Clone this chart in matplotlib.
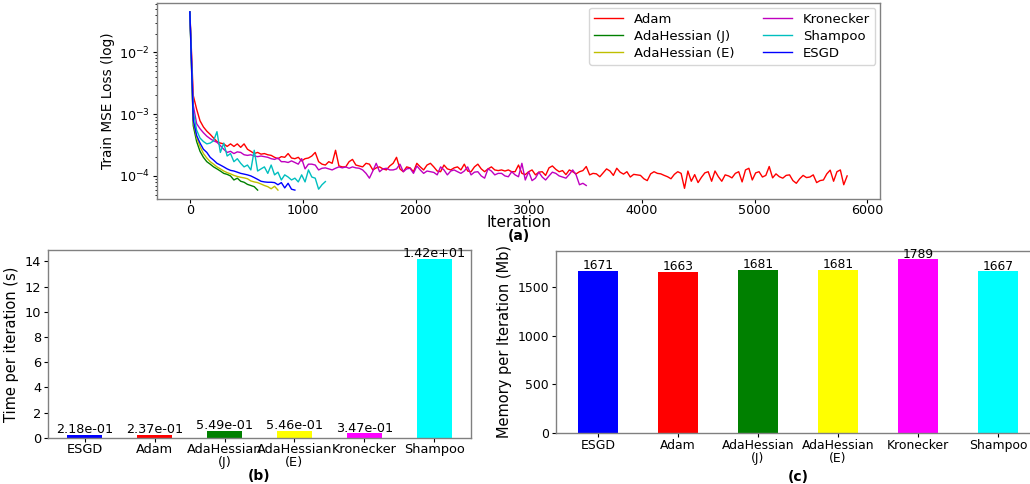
import numpy as np
import matplotlib
matplotlib.use("Agg")
import matplotlib.pyplot as plt
from matplotlib.ticker import MultipleLocator

# ---------------- data ----------------
STEP = 30          # logging interval (iterations)
SCALE = 1e-5       # loss values below are given in units of 1e-5

adam_loss = [
    4500, 200, 120, 78, 62, 53, 47, 41, 36, 34,
    33, 30, 33, 30, 33, 29, 33, 27, 25, 23,
    24, 22.5, 23, 22, 21.5, 20, 19, 20.5, 20, 23,
    19.5, 19, 20, 17.5, 19, 19.5, 21, 24, 17, 15.5,
    15, 17, 16, 26, 14.5, 14, 14, 17, 18.5, 15,
    14.5, 14, 16, 15.5, 12.5, 13.5, 14, 13, 12.5, 14.5,
    16, 20, 13, 11.7, 14, 13.5, 11.7, 16, 14, 12.5,
    15, 16, 14, 12, 11.7, 15, 13, 12.5, 13.5, 14,
    12.5, 15.5, 12, 11.7, 14, 15.5, 13, 11.7, 13, 14,
    12.5, 12.2, 12.5, 12, 12.5, 11.7, 11.7, 15, 11, 10.5,
    11.7, 12.5, 10.4, 11.5, 11.7, 10.2, 13.5, 14.5, 12.8, 11.7,
    12.2, 10.5, 12.5, 11.7, 10.8, 11.7, 12.2, 14.2, 10.4, 11,
    10.8, 9.7, 11.2, 13, 12, 10.2, 13.3, 11.5, 10.7, 11.7,
    9.6, 10.6, 10.4, 10.2, 9, 8.4, 10.8, 11.7, 11, 10.8,
    10.2, 9.7, 9, 10.6, 11.7, 11, 6.3, 12, 8.2, 10.5,
    7.8, 9.5, 11.2, 11.7, 8.2, 12, 9.7, 8.2, 10.4, 10,
    9.3, 11, 11.7, 8, 12.5, 13.3, 8.6, 11.2, 11.7, 9.6,
    10.2, 14.2, 9.3, 10.8, 9.7, 9.2, 10.2, 10.4, 8.4, 7.6,
    9, 10.2, 9.4, 9.6, 10.4, 7.8, 8.4, 8.6, 10.8, 12.4,
    8.2, 11.7, 12.5, 7.2, 10,
]

adahessian_j_loss = [
    4500, 65, 36, 25, 20, 17, 15.5, 14, 13, 12,
    11, 10.6, 10, 8.6, 9.2, 8.2, 7.9, 7.3, 7, 6.7,
    5.9,
]

adahessian_e_loss = [
    4500, 75, 42, 30, 23, 19.5, 17, 15.5, 14, 13,
    12, 11.3, 10.8, 10.2, 9.8, 9.5, 9.3, 9, 8.3, 8,
    7.8, 7.4, 7, 6.7, 6.2, 6.8, 5.9,
]

kronecker_loss = [
    4500, 140, 70, 58, 50, 44, 40, 37, 35, 31,
    27, 24, 25, 23, 24.5, 24, 22, 21.5, 22, 21,
    20.5, 21, 20.5, 20, 19, 18.5, 19.5, 17, 17, 16.5,
    17.5, 16.5, 15.5, 19, 13, 15.5, 15.5, 15, 12.5, 13.3,
    13.5, 13, 12.5, 13.3, 14, 13.5, 14, 13.3, 14, 13.5,
    13.3, 12.5, 11, 9.2, 12, 16, 11.7, 13, 13.3, 12.5,
    12.5, 13, 15.5, 11.7, 13, 13.3, 11, 14.5, 12.5, 11,
    12, 11.7, 11.4, 10.4, 14, 12.5, 10.4, 12, 12.5, 11.7,
    11, 12, 14, 10.4, 11.5, 11.7, 10, 9.2, 13, 12,
    10.4, 11, 11, 10, 9.7, 11.7, 10.4, 9.7, 16, 8.6,
    11.7, 8.4, 9.2, 11.5, 9.6, 8.6, 10, 11.5, 11, 10,
    9.6, 9.2, 10.6, 12.5, 10.4, 7.2, 7.6, 7,
]

shampoo_loss = [
    4500, 110, 55, 41, 36, 33, 34, 37, 52, 24,
    34, 21, 23, 17, 19, 16, 14, 15, 12.5, 26,
    12, 13, 14, 11, 15, 10.4, 11.5, 8.6, 10.4, 9.6,
    8.6, 9.2, 8, 10.4, 8, 12.5, 9.6, 9.2, 6.1, 7.2,
    8.1,
]

esgd_loss = [
    4500, 80, 45, 34, 27, 24, 20, 18, 16, 15,
    14, 13, 12.3, 12, 11.5, 11, 10.7, 10.4, 10, 9.4,
    8.8, 8.2, 8, 7.9, 7.9, 7.8, 7.2, 7.8, 6.4, 7.6,
    6.1, 5.9,
]

line_labels = ["Adam", "AdaHessian (J)", "AdaHessian (E)", "Kronecker", "Shampoo", "ESGD"]
line_colors = ["r", "g", "y", "m", "c", "b"]
line_series = [adam_loss, adahessian_j_loss, adahessian_e_loss,
               kronecker_loss, shampoo_loss, esgd_loss]

bar_categories = ["ESGD", "Adam", "AdaHessian\n(J)", "AdaHessian\n(E)", "Kronecker", "Shampoo"]
bar_colors = ["blue", "red", "green", "yellow", "magenta", "cyan"]
time_per_iter = [0.218, 0.237, 0.549, 0.546, 0.347, 14.2]
memory_per_iter = [1671, 1663, 1681, 1681, 1789, 1667]

# ---------------- figure ----------------
W, H = 1030, 484
fig = plt.figure(figsize=(W / 100, H / 100), dpi=100)

spine_col = "#808080"

def style_axes(ax, labelsize, xpad=2):
    for s in ax.spines.values():
        s.set_color(spine_col)
        s.set_linewidth(1.0)
    ax.tick_params(axis="both", which="major", length=3, pad=2, labelsize=labelsize)
    ax.tick_params(axis="x", which="major", pad=xpad)
    ax.tick_params(axis="both", which="minor", length=1.8)

# (a) training loss
ax1 = fig.add_axes([157 / W, 1 - 199 / H, (880 - 157) / W, (199 - 3) / H])
for vals, lab, col in zip(line_series, line_labels, line_colors):
    vals = np.asarray(vals) * SCALE
    it = np.arange(len(vals)) * STEP
    ax1.plot(it, vals, color=col, lw=1.0, label=lab)
ax1.set_yscale("log")
style_axes(ax1, 9.2, xpad=0.5)
ax1.set_ylabel("Train MSE Loss (log)", fontsize=9.8, labelpad=3)
ax1.set_xlabel("Iteration", fontsize=11, labelpad=-1)
ax1.text(0.5, -0.19, "(a)", transform=ax1.transAxes, ha="center", va="center",
         fontsize=10, fontweight="bold")
ax1.legend(loc="upper right", ncol=2, fontsize=9.5, columnspacing=2.2,
           handlelength=2.2, borderaxespad=0.35, labelspacing=0.3)

# (b) time per iteration
x = np.arange(len(bar_categories))
ax2 = fig.add_axes([48 / W, 1 - 437.7 / H, (471 - 48) / W, (437.7 - 250) / H])
bars = ax2.bar(x, time_per_iter, width=0.5, color=bar_colors)
ax2.bar_label(bars, labels=[f"{v:.2e}" for v in time_per_iter], fontsize=9.2, padding=-1)
ax2.set_xticks(x)
ax2.set_xticklabels(bar_categories, linespacing=1.05)
ax2.yaxis.set_major_locator(MultipleLocator(2))
style_axes(ax2, 9.3, xpad=0.5)
ax2.set_ylabel("Time per iteration (s)", fontsize=10.5, labelpad=4)
ax2.set_xlabel("(b)", fontsize=10, fontweight="bold", labelpad=0)

# (c) memory per iteration
ax3 = fig.add_axes([556 / W, 1 - 432.7 / H, 484 / W, (432.7 - 250.7) / H])
bars = ax3.bar(x, memory_per_iter, width=0.5, color=bar_colors)
ax3.bar_label(bars, labels=[f"{v:d}" for v in memory_per_iter], fontsize=8.8, padding=-1)
ax3.set_xticks(x)
ax3.set_xticklabels(bar_categories, linespacing=1.05)
style_axes(ax3, 8.9, xpad=1.5)
ax3.set_ylabel("Memory per Iteration (Mb)", fontsize=10.5, labelpad=4)
ax3.set_xlabel("(c)", fontsize=10, fontweight="bold", labelpad=3)

fig.savefig("out.png", dpi=100)
